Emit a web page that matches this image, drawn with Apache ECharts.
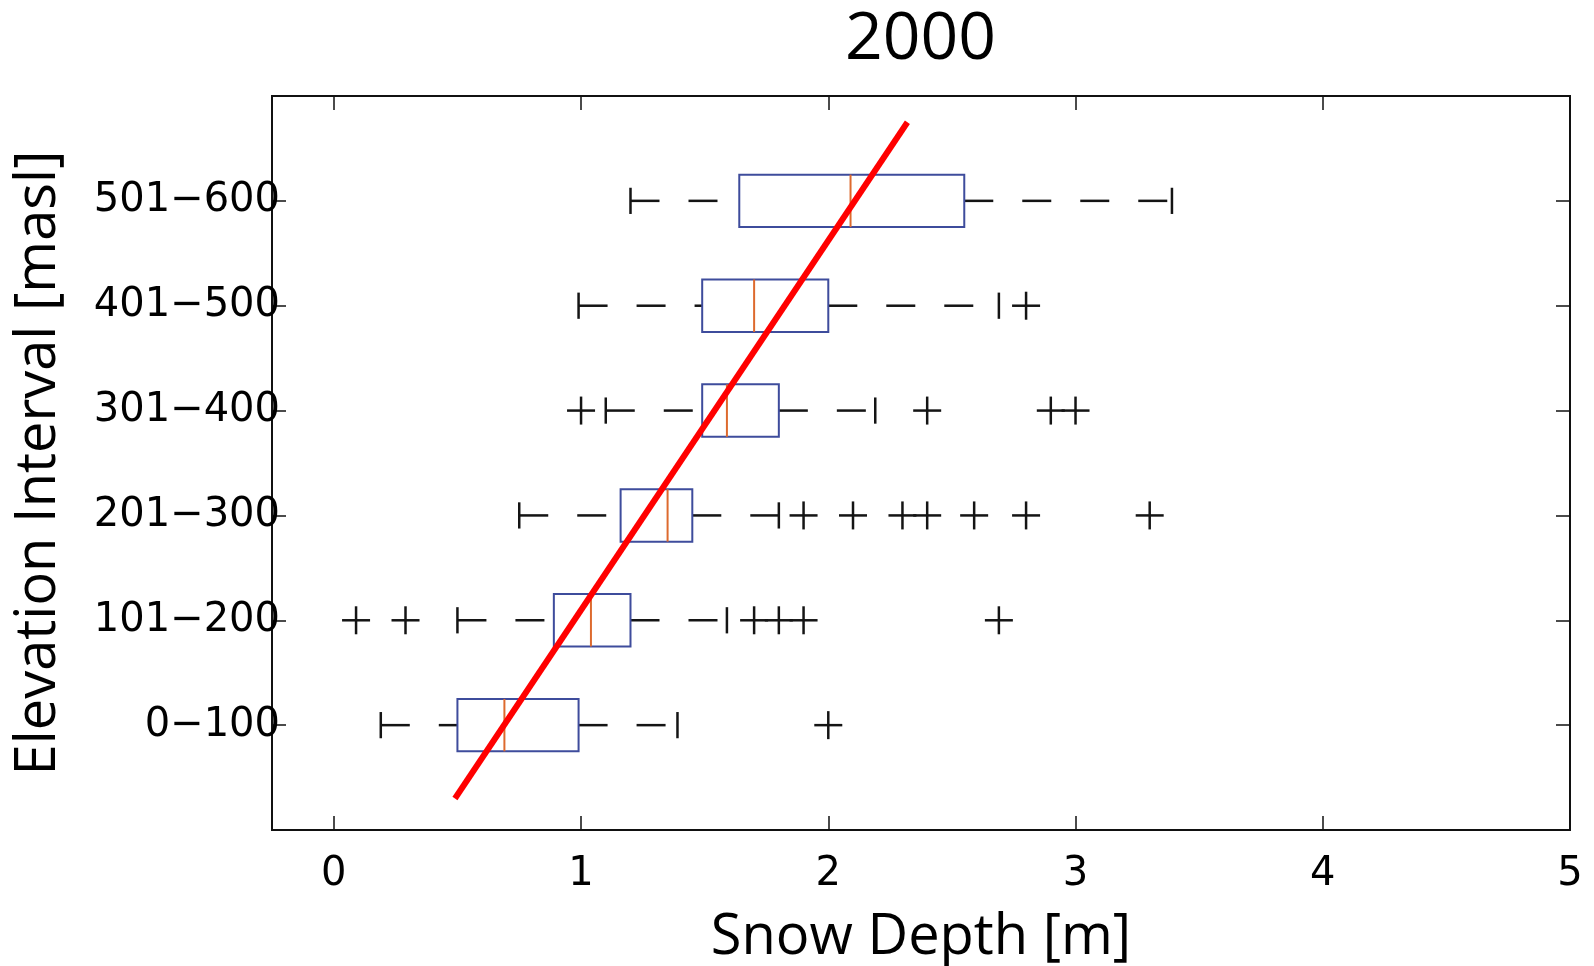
<!DOCTYPE html>
<html><head><meta charset="utf-8">
<script src="https://cdn.jsdelivr.net/npm/echarts@6/dist/echarts.min.js"></script>
<style>html,body{margin:0;padding:0;background:#fff}#c{width:1594px;height:966px}</style>
</head><body><div id="c"></div>
<script>
// ---- data ----
const categories = ['0\u2212100','101\u2212200','201\u2212300','301\u2212400','401\u2212500','501\u2212600'];
const lowerWhisker = [0.19, 0.50, 0.75, 1.10, 0.99, 1.20];
const q1           = [0.50, 0.89, 1.16, 1.49, 1.49, 1.64];
const median       = [0.69, 1.04, 1.35, 1.59, 1.70, 2.09];
const q3           = [0.99, 1.20, 1.45, 1.80, 2.00, 2.55];
const upperWhisker = [1.39, 1.59, 1.80, 2.19, 2.69, 3.39];
const outliers = [
  [2.00],
  [0.09, 0.29, 1.70, 1.80, 1.90, 2.69],
  [1.90, 2.10, 2.30, 2.40, 2.59, 2.80, 3.30],
  [1.00, 2.40, 2.90, 3.00],
  [2.80],
  []
];
const trendX = [0.49, 2.32];
const trendY = [0.30, 6.75];
const xTickValues = [0, 1, 2, 3, 4, 5];
const yTickValues = [1, 2, 3, 4, 5, 6];

// ---- build series data ----
const boxData = categories.map((c, i) => [i + 1, lowerWhisker[i], q1[i], median[i], q3[i], upperWhisker[i]]);
const outlierData = [];
outliers.forEach((arr, i) => arr.forEach(v => outlierData.push([v, i + 1])));
const trendData = trendX.map((x, i) => [x, trendY[i]]);

const FONT = 'Open Sans';
const TICK_FONT = 'DejaVu Sans';
const BOX_HALF = 0.25, CAP_HALF = 0.125;
const tickStyle = {color: '#111', width: 1.5};

const chart = echarts.init(document.getElementById('c'), null, {renderer: 'canvas'});
chart.setOption({
  backgroundColor: '#ffffff',
  animation: false,
  title: {
    text: '2000', left: 845, top: 7, padding: 0,
    textStyle: {fontFamily: FONT, fontSize: 66, fontWeight: 'normal', color: '#000'}
  },
  grid: {left: 272, right: 24, top: 96, bottom: 136, show: true, borderColor: '#111', borderWidth: 2,
         containLabel: false, outerBoundsMode: 'none'},
  xAxis: [{
    type: 'value', min: -0.25, max: 5, position: 'bottom',
    axisLine: {show: false, onZero: false},
    axisTick: {show: true, inside: true, length: 14, customValues: xTickValues, lineStyle: tickStyle},
    axisLabel: {show: true, customValues: xTickValues, margin: 25, fontSize: 40, fontFamily: TICK_FONT, color: '#000'},
    splitLine: {show: false},
    name: 'Snow Depth [m]', nameLocation: 'middle', nameGap: 80,
    nameTextStyle: {fontFamily: FONT, fontSize: 56, color: '#000'}
  }, {
    type: 'value', min: -0.25, max: 5, position: 'top',
    axisLine: {show: false, onZero: false},
    axisTick: {show: true, inside: true, length: 14, customValues: xTickValues, lineStyle: tickStyle},
    axisLabel: {show: false},
    splitLine: {show: false}
  }],
  yAxis: [{
    type: 'value', min: 0, max: 7, interval: 1, position: 'left',
    axisLine: {show: false, onZero: false},
    axisTick: {show: true, inside: true, length: 14, customValues: yTickValues, lineStyle: tickStyle},
    axisLabel: {
      show: true, customValues: yTickValues, margin: -8, fontSize: 40, fontFamily: TICK_FONT, color: '#000',
      formatter: v => (v >= 1 && v <= categories.length) ? categories[v - 1] : ''
    },
    splitLine: {show: false},
    name: 'Elevation Interval [masl]', nameLocation: 'middle', nameGap: 205, nameRotate: 90,
    nameTextStyle: {fontFamily: FONT, fontSize: 56, color: '#000'}
  }, {
    type: 'value', min: 0, max: 7, interval: 1, position: 'right',
    axisLine: {show: false, onZero: false},
    axisTick: {show: true, inside: true, length: 14, customValues: yTickValues, lineStyle: tickStyle},
    axisLabel: {show: false},
    splitLine: {show: false}
  }],
  series: [{
    type: 'custom', name: 'box', xAxisIndex: 0, yAxisIndex: 0,
    data: boxData,
    encode: {x: [1, 2, 3, 4, 5], y: 0},
    z: 3,
    renderItem: function (params, api) {
      const y = api.value(0);
      const lw = api.value(1), a = api.value(2), m = api.value(3), b = api.value(4), uw = api.value(5);
      const yc = api.coord([a, y])[1];
      const yt = api.coord([a, y + BOX_HALF])[1];
      const yb = api.coord([a, y - BOX_HALF])[1];
      const ct = api.coord([a, y + CAP_HALF])[1];
      const cb = api.coord([a, y - CAP_HALF])[1];
      const xlw = api.coord([lw, y])[0], xa = api.coord([a, y])[0], xm = api.coord([m, y])[0];
      const xb = api.coord([b, y])[0], xuw = api.coord([uw, y])[0];
      const wStyle = {stroke: '#141414', lineWidth: 2.5, lineDash: [29, 29], fill: null};
      const cStyle = {stroke: '#141414', lineWidth: 2.5, fill: null};
      return {
        type: 'group',
        children: [
          {type: 'line', shape: {x1: xlw, y1: yc, x2: xa, y2: yc}, style: wStyle},
          {type: 'line', shape: {x1: xb, y1: yc, x2: xuw, y2: yc}, style: wStyle},
          {type: 'line', shape: {x1: xlw, y1: ct, x2: xlw, y2: cb}, style: cStyle},
          {type: 'line', shape: {x1: xuw, y1: ct, x2: xuw, y2: cb}, style: cStyle},
          {type: 'rect', shape: {x: xa, y: yt, width: xb - xa, height: yb - yt}, style: {stroke: '#3e4c9c', lineWidth: 2, fill: '#ffffff'}},
          {type: 'line', shape: {x1: xm, y1: yt, x2: xm, y2: yb}, style: {stroke: '#dd6a2e', lineWidth: 2}}
        ]
      };
    }
  }, {
    type: 'custom', name: 'outliers', xAxisIndex: 0, yAxisIndex: 0,
    data: outlierData,
    encode: {x: 0, y: 1},
    z: 3,
    renderItem: function (params, api) {
      const p = api.coord([api.value(0), api.value(1)]);
      const h = 14;
      const st = {stroke: '#141414', lineWidth: 2.5};
      return {
        type: 'group',
        children: [
          {type: 'line', shape: {x1: p[0] - h, y1: p[1], x2: p[0] + h, y2: p[1]}, style: st},
          {type: 'line', shape: {x1: p[0], y1: p[1] - h, x2: p[0], y2: p[1] + h}, style: st}
        ]
      };
    }
  }, {
    type: 'line', name: 'trend', xAxisIndex: 0, yAxisIndex: 0,
    data: trendData, symbol: 'none', z: 10,
    lineStyle: {color: '#ff0000', width: 6, cap: 'butt'}
  }]
});
</script>
</body></html>
